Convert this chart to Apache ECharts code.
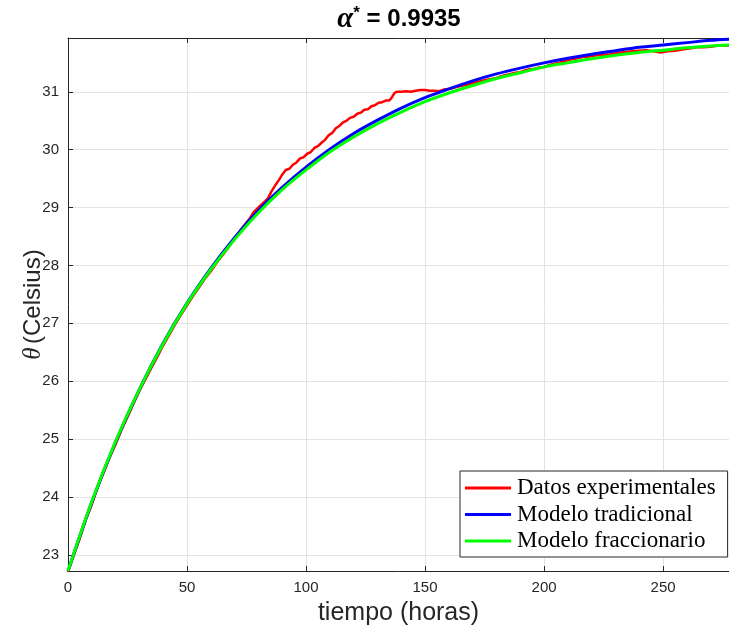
<!DOCTYPE html>
<html><head><meta charset="utf-8">
<script src="https://cdn.jsdelivr.net/npm/echarts@6/dist/echarts.min.js"></script>
<style>html,body{margin:0;padding:0;background:#fff}#c{width:729px;height:631px}</style>
</head><body><div id="c"></div>
<script>
const titleText = 'α* = 0.9935';
const xTicks = [0, 50, 100, 150, 200, 250];
const yTicks = [23, 24, 25, 26, 27, 28, 29, 30, 31];
const legendNames = ['Datos experimentales', 'Modelo tradicional', 'Modelo fraccionario'];

const modelT = [0,10,20,30,40,50,60,70,80,90,100,110,120,130,140,150,160,170,180,190,200,210,220,230,240,250,260,270,278];
const blueV = [22.72,23.91,24.95,25.86,26.66,27.35,27.95,28.48,28.95,29.35,29.70,30.01,30.28,30.51,30.72,30.90,31.05,31.19,31.31,31.41,31.50,31.58,31.65,31.71,31.77,31.81,31.85,31.89,31.91];
const greenV = [22.72,23.92,24.96,25.86,26.65,27.34,27.93,28.45,28.91,29.31,29.65,29.96,30.22,30.45,30.65,30.83,30.98,31.11,31.23,31.33,31.43,31.50,31.57,31.63,31.68,31.72,31.76,31.79,31.81];

const redT = [0,2.5,5,7.5,10,12.5,15,17.5,20,22.5,25,27.5,30,32.5,35,37.5,40,42.5,45,47.5,50,52.5,55,57.5,60,62.5,65,67.5,70,72.5,75,
  76.5,78,79.5,81,82.5,84,85.5,87,88.5,90,91.5,93,94.5,96,97.5,99,100.5,102,103.5,105,106.5,108,109.5,111,112.5,114,115.5,117,118.5,120,121.5,123,124.5,126,127.5,129,130.5,132,133.5,135,136,137,138,140,142,144,146,148,150,152,154,156,158,160,162,164,166,
  168,170,172,174,176,178,180,182,184,186,188,190,192,194,196,198,200,202,204,206,208,210,213,216,219,222,225,228,231,234,237,240,243,246,249,252,255,258,261,264,267,270,273,276,278];
const redV = [22.70,23.00,23.29,23.61,23.87,24.17,24.42,24.68,24.91,25.16,25.38,25.61,25.83,26.03,26.23,26.42,26.62,26.80,26.98,27.15,27.31,27.47,27.62,27.77,27.90,28.05,28.18,28.32,28.46,28.61,28.74,
  28.82,28.92,28.98,29.04,29.10,29.16,29.28,29.38,29.47,29.57,29.65,29.67,29.74,29.78,29.85,29.87,29.93,29.96,30.03,30.06,30.12,30.17,30.25,30.29,30.37,30.41,30.47,30.50,30.55,30.57,30.62,30.64,30.69,30.70,30.75,30.77,30.81,30.82,30.85,30.85,30.90,30.97,31.00,31.00,31.01,31.00,31.02,31.03,31.03,31.02,31.02,31.01,31.04,31.05,31.07,31.09,31.11,
  31.12,31.15,31.17,31.19,31.21,31.22,31.24,31.27,31.29,31.31,31.33,31.34,31.37,31.39,31.40,31.42,31.43,31.46,31.48,31.50,31.52,31.55,31.57,31.60,31.61,31.63,31.64,31.65,31.67,31.69,31.70,31.71,31.72,31.70,31.68,31.70,31.71,31.73,31.75,31.77,31.77,31.78,31.80,31.80,31.80];

const zip = (a, b) => a.map((v, i) => [v, b[i]]);
const axisCol = '#262626';
const gridCol = '#e3e3e3';
const labelFont = {color: axisCol, fontSize: 15, fontFamily: 'Liberation Sans, Arial, sans-serif'};

const chart = echarts.init(document.getElementById('c'), null, {renderer: 'canvas'});
chart.setOption({
  animation: false,
  backgroundColor: '#fff',
  title: {
    text: '{a|α}{b|*}{c| = 0.9935}',
    left: 394, textAlign: 'center', top: 0,
    textStyle: {
      rich: {
        a: {fontFamily: 'Liberation Serif, serif', fontStyle: 'italic', fontWeight: 'bold', fontSize: 29, color: '#000'},
        b: {fontFamily: 'Liberation Sans, Arial', fontWeight: 'bold', fontSize: 17, color: '#000', verticalAlign: 'top', padding: [0,0,11,0]},
        c: {fontFamily: 'Liberation Sans, Arial', fontWeight: 'bold', fontSize: 24, color: '#000'}
      }
    }
  },
  grid: {left: 68, right: 0, top: 38, bottom: 59, containLabel: false},
  legend: {
    data: legendNames,
    orient: 'vertical',
    left: 460, top: 471,
    backgroundColor: '#fff',
    borderColor: axisCol, borderWidth: 1, borderRadius: 0,
    padding: [5, 12, 4, 5],
    itemGap: 2.5,
    itemWidth: 46, itemHeight: 3,
    icon: 'rect',
    textStyle: {fontFamily: 'Liberation Serif, serif', fontSize: 23, lineHeight: 24, color: '#000', padding: [0,0,0,1]}
  },
  xAxis: [{
    type: 'value', min: 0, max: 277.7,
    axisLine: {show: true, onZero: false, lineStyle: {color: axisCol, width: 1}},
    axisTick: {show: true, inside: true, length: 5, customValues: xTicks, lineStyle: {color: axisCol}},
    axisLabel: {customValues: xTicks, margin: 9, ...labelFont},
    splitLine: {show: true, lineStyle: {color: gridCol, width: 1}},
    name: 'tiempo (horas)', nameLocation: 'middle', nameGap: 30, nameMoveOverlap: false,
    nameTextStyle: {fontFamily: 'Liberation Sans, Arial', fontSize: 25, color: axisCol}
  }, {
    type: 'value', min: 0, max: 277.7, position: 'top',
    axisLine: {show: true, onZero: false, lineStyle: {color: axisCol, width: 1}},
    axisTick: {show: true, inside: true, length: 5, customValues: xTicks, lineStyle: {color: axisCol}},
    axisLabel: {show: false}, splitLine: {show: false}
  }],
  yAxis: [{
    type: 'value', min: 22.72, max: 31.93,
    axisLine: {show: true, onZero: false, lineStyle: {color: axisCol, width: 1}},
    axisTick: {show: true, inside: true, length: 5, customValues: yTicks, lineStyle: {color: axisCol}},
    axisLabel: {customValues: yTicks, margin: 9, ...labelFont},
    splitLine: {show: true, lineStyle: {color: gridCol, width: 1}},
    name: '{t|θ} {c|(Celsius)}', nameLocation: 'middle', nameGap: 22, nameRotate: 90, nameMoveOverlap: false,
    nameTextStyle: {
      rich: {
        t: {fontFamily: 'Liberation Serif, serif', fontStyle: 'italic', fontSize: 25, color: axisCol},
        c: {fontFamily: 'Liberation Sans, Arial', fontSize: 24, color: axisCol}
      }
    }
  }],
  series: [
    {name: legendNames[0], type: 'line', data: zip(redT, redV), showSymbol: false, symbol: 'none',
     lineStyle: {color: '#ff0000', width: 2.5}, itemStyle: {color: '#ff0000'}, z: 3},
    {name: legendNames[1], type: 'line', data: zip(modelT, blueV), showSymbol: false, symbol: 'none', smooth: 0.3,
     lineStyle: {color: '#0000ff', width: 3}, itemStyle: {color: '#0000ff'}, z: 4},
    {name: legendNames[2], type: 'line', data: zip(modelT, greenV), showSymbol: false, symbol: 'none', smooth: 0.3,
     lineStyle: {color: '#00ff00', width: 3}, itemStyle: {color: '#00ff00'}, z: 5}
  ]
});
</script>
</body></html>
